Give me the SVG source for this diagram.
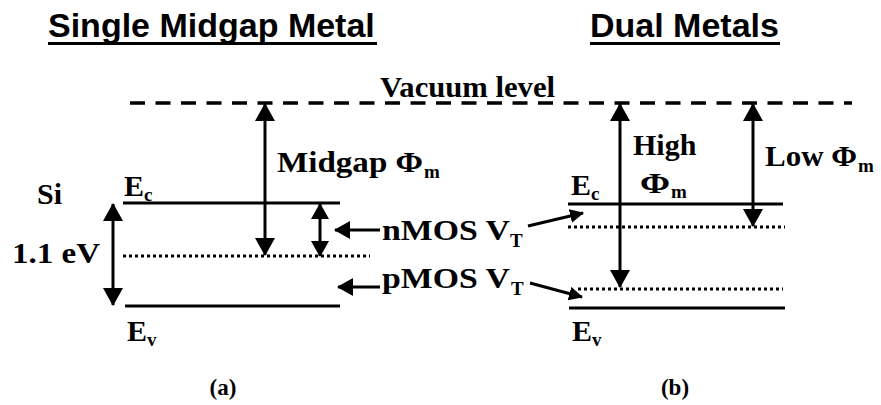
<svg xmlns="http://www.w3.org/2000/svg" width="881" height="405" viewBox="0 0 881 405">
<style>
.title{font-family:"Liberation Sans",Arial,sans-serif;font-weight:bold;font-size:34px;fill:#000}
.lab{font-family:"Liberation Serif","Times New Roman",serif;font-weight:bold;font-size:30px;fill:#000}
.sub{font-family:"Liberation Serif","Times New Roman",serif;font-weight:bold;font-size:19px;fill:#000}
.cap{font-family:"Liberation Serif","Times New Roman",serif;font-weight:bold;font-size:23px;fill:#000}
.band{stroke:#000;stroke-width:3;fill:none}
.dot{stroke:#000;stroke-width:3;stroke-dasharray:3 3;fill:none}
.arr{stroke:#000;stroke-width:3;fill:none}
</style>
<defs>
<marker id="big" viewBox="0 0 18 20" refX="17" refY="10" markerWidth="18" markerHeight="20" markerUnits="userSpaceOnUse" orient="auto-start-reverse">
<path d="M0,0 L18,10 L0,20 z" fill="#000"/>
</marker>
<marker id="mid" viewBox="0 0 16 18" refX="15" refY="9" markerWidth="16" markerHeight="18" markerUnits="userSpaceOnUse" orient="auto-start-reverse">
<path d="M0,0 L16,9 L0,18 z" fill="#000"/>
</marker>
<marker id="small" viewBox="0 0 14 14" refX="13" refY="7" markerWidth="14" markerHeight="14" markerUnits="userSpaceOnUse" orient="auto">
<path d="M0,0 L14,7 L0,14 z" fill="#000"/>
</marker>
</defs>

<g id="titles">
<text class="title" x="48" y="37">Single Midgap Metal</text>
<rect x="48" y="42" width="329" height="3" fill="#000"/>
<text class="title" x="590" y="37">Dual Metals</text>
<rect x="590" y="42" width="190" height="3" fill="#000"/>
</g>

<g id="vacuum">
<line x1="130" y1="103" x2="852" y2="103" stroke="#000" stroke-width="3.5" stroke-dasharray="15 10.5"/>
<text class="lab" x="380" y="97" textLength="175" lengthAdjust="spacingAndGlyphs">Vacuum level</text>
</g>

<g id="band-a">
<line class="band" x1="123" y1="203" x2="340" y2="203"/>
<line class="dot" x1="123" y1="256" x2="370" y2="256"/>
<line class="band" x1="125" y1="306" x2="340" y2="306" stroke-width="4"/>
<text class="lab" x="37" y="204">Si</text>
<text class="lab" x="12" y="263" textLength="88" lengthAdjust="spacingAndGlyphs">1.1 eV</text>
<text class="lab" x="124" y="196" font-size="27">E</text><text class="sub" x="144" y="201" font-size="17">c</text>
<text class="lab" x="127" y="341" font-size="27">E</text><text class="sub" x="147" y="346" font-size="17">v</text>
<text class="lab" x="277" y="172" textLength="146" lengthAdjust="spacingAndGlyphs">Midgap Φ</text><text class="sub" x="424" y="178">m</text>
</g>

<g id="band-b">
<line class="band" x1="568" y1="204" x2="783" y2="204"/>
<line class="dot" x1="568" y1="227" x2="785" y2="227"/>
<line class="dot" x1="578" y1="289" x2="783" y2="289"/>
<line class="band" x1="569" y1="308" x2="785" y2="308" stroke-width="4"/>
<text class="lab" x="571" y="195" font-size="27">E</text><text class="sub" x="591" y="200" font-size="17">c</text>
<text class="lab" x="572" y="341" font-size="27">E</text><text class="sub" x="592" y="346" font-size="17">v</text>
<text class="lab" x="633" y="155">High</text>
<text class="lab" x="640" y="193" textLength="30" lengthAdjust="spacingAndGlyphs">Φ</text><text class="sub" x="671" y="198">m</text>
<text class="lab" x="765" y="166" textLength="92" lengthAdjust="spacingAndGlyphs">Low Φ</text><text class="sub" x="858" y="172">m</text>
</g>

<g id="vt-labels">
<text class="lab" x="382" y="240" textLength="128" lengthAdjust="spacingAndGlyphs">nMOS V</text><text class="sub" x="510" y="247">T</text>
<text class="lab" x="382" y="288" textLength="128" lengthAdjust="spacingAndGlyphs">pMOS V</text><text class="sub" x="511" y="295">T</text>
</g>

<g id="connectors">
<line class="arr" x1="265" y1="104" x2="265" y2="255" marker-start="url(#big)" marker-end="url(#big)"/>
<line class="arr" x1="320" y1="204" x2="320" y2="256" marker-start="url(#mid)" marker-end="url(#mid)"/>
<line class="arr" x1="113" y1="204" x2="113" y2="305" marker-start="url(#big)" marker-end="url(#big)"/>
<line class="arr" x1="620" y1="104" x2="620" y2="287" marker-start="url(#big)" marker-end="url(#big)"/>
<line class="arr" x1="753" y1="104" x2="753" y2="226" marker-start="url(#big)" marker-end="url(#big)"/>
<line class="arr" x1="380" y1="230" x2="335" y2="230" stroke-width="4" marker-end="url(#mid)"/>
<line class="arr" x1="380" y1="287" x2="338" y2="287" stroke-width="4" marker-end="url(#mid)"/>
<line class="arr" x1="528" y1="226" x2="583" y2="213" marker-end="url(#small)"/>
<line class="arr" x1="530" y1="283" x2="582" y2="297" marker-end="url(#small)"/>
</g>

<g id="captions">
<text class="cap" x="223" y="395" text-anchor="middle">(a)</text>
<text class="cap" x="675" y="395" text-anchor="middle">(b)</text>
</g>
</svg>
